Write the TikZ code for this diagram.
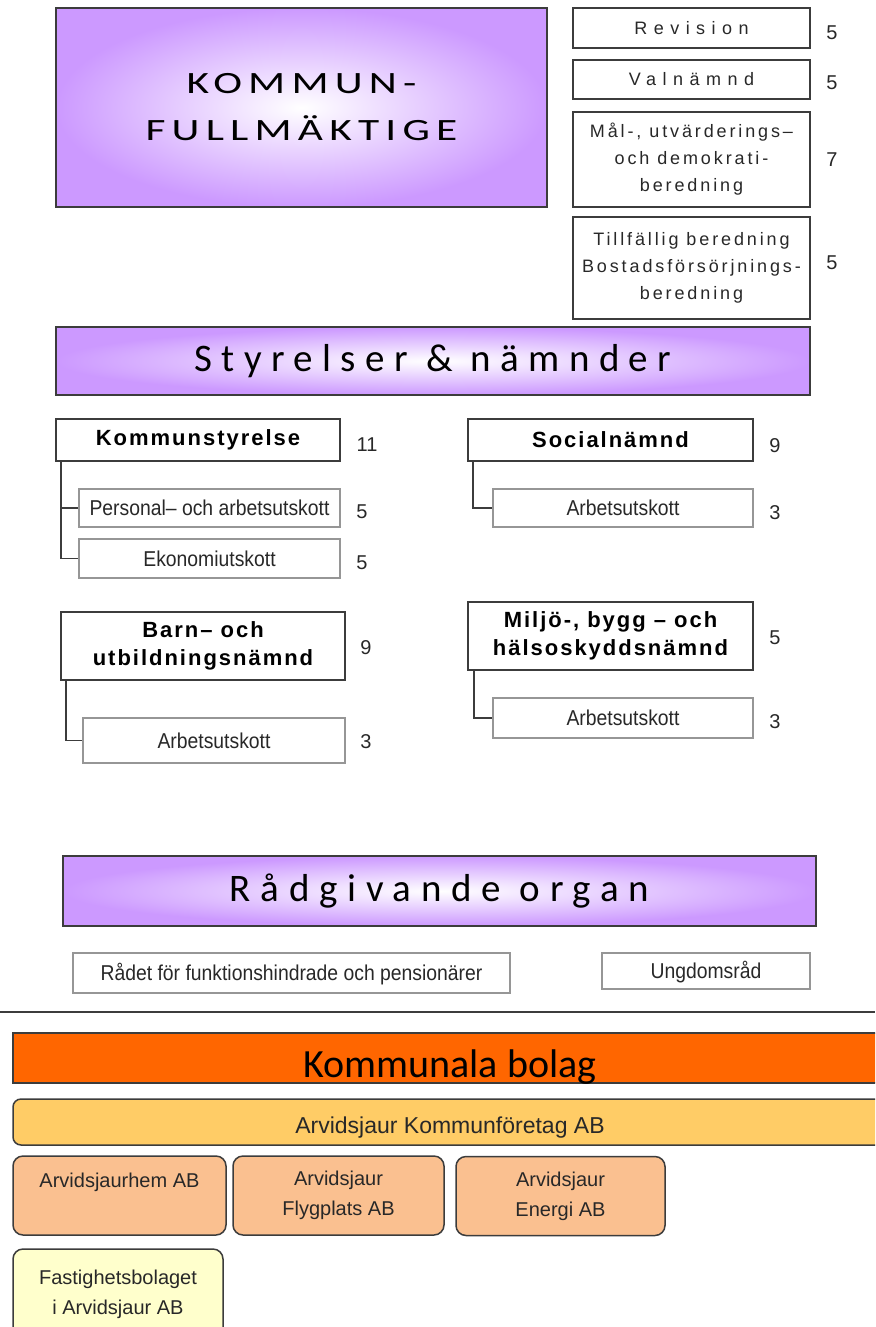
\documentclass[tikz,border=0pt]{standalone}
\usepackage{fontspec}
\setmainfont{Liberation Sans}
\newfontfamily\calfont{Carlito}
\definecolor{lav}{RGB}{204,153,255}
\definecolor{edgec}{RGB}{60,60,60}
\definecolor{lightedge}{RGB}{150,150,150}
\definecolor{txt}{RGB}{40,40,40}
\definecolor{orangebar}{RGB}{255,102,0}
\definecolor{yellowbar}{RGB}{255,204,102}
\definecolor{peach}{RGB}{250,192,144}
\definecolor{paleyellow}{RGB}{255,255,204}
\tikzset{
  purplebox/.style={draw=edgec, line width=1.8pt, inner color=white, outer color=lav, inner sep=0pt, align=center},
  topbox/.style={draw=edgec, line width=1.3pt, fill=white, align=center, inner sep=0pt, text=txt,
    font=\fontsize{18}{27}\selectfont\addfontfeatures{LetterSpace=16}},
  wideletters/.style={font=\fontsize{18}{27}\selectfont\addfontfeatures{LetterSpace=36}},
  headbox/.style={draw=edgec, line width=1.6pt, fill=white, align=center, inner sep=0pt,
    font=\fontsize{22}{28}\selectfont\bfseries\addfontfeatures{LetterSpace=9}},
  subbox/.style={draw=lightedge, line width=1.3pt, fill=white, inner sep=0pt, text=txt,
    text height=15pt, text depth=0pt, font=\fontsize{21.5}{24}\selectfont\addfontfeatures{FakeStretch=0.9}},
  num/.style={font=\fontsize{20}{20}\selectfont, text=txt, inner sep=0pt},
  conn/.style={draw=edgec, line width=1.5pt},
  company/.style={draw=edgec, line width=1.5pt, rounded corners=10pt, fill=peach, align=center, inner sep=0pt,
    font=\fontsize{20}{30}\selectfont, text=txt},
}
\begin{document}
\begin{tikzpicture}[x=1pt, y=-1pt]
\clip (0,0) rectangle (875,1327);
\fill[white] (0,0) rectangle (875,1327);

% Kommunfullmaktige
\node[purplebox, minimum width=491pt, minimum height=199pt,
  font=\calfont\fontsize{31}{47}\selectfont\addfontfeatures{FakeStretch=1.4,LetterSpace=20}] (kf) at (301.5,107.5) {KOMMUN-\\FULLMÄKTIGE};

% top right boxes
\node[topbox, wideletters, minimum width=237pt, minimum height=40pt] (rev) at (691.5,28) {Revision};
\node[num] (revn) at (832,33) {5};
\node[topbox, wideletters, minimum width=237pt, minimum height=39pt] (val) at (691.5,79.5) {Valnämnd};
\node[num] (valn) at (832,83) {5};
\node[topbox, minimum width=237pt, minimum height=95pt] (mal) at (691.5,159.5) {Mål-, utvärderings–\\och demokrati-\\beredning};
\node[num] (maln) at (832,160) {7};
\node[topbox, minimum width=237pt, minimum height=102pt] (till) at (691.5,268) {Tillfällig beredning\\Bostadsförsörjnings-\\beredning};
\node[num] (tilln) at (832,263) {5};

% Styrelser & namnder
\node[purplebox, minimum width=754pt, minimum height=68pt,
  font=\calfont\fontsize{39}{42}\selectfont\addfontfeatures{LetterSpace=24}] (sty) at (433,361) {Styrelser \& nämnder};

% Kommunstyrelse
\node[headbox, minimum width=284pt, minimum height=42pt] (ks) at (198,440) {Kommunstyrelse};
\node[num] (ksn) at (367,445) {11};
\node[subbox, minimum width=261pt, minimum height=38pt] (pers) at (209.5,508) {Personal– och arbetsutskott};
\node[num] (persn) at (362,512) {5};
\node[subbox, minimum width=261pt, minimum height=39pt] (eko) at (209.5,558.5) {Ekonomiutskott};
\node[num] (ekon) at (362,563) {5};
\draw[conn] ([xshift=6pt]ks.south west) |- (pers.west);
\draw[conn] ([xshift=6pt]ks.south west) |- (eko.west);

% Barn- och utbildningsnamnd
\node[headbox, minimum width=284pt, minimum height=68pt] (barn) at (203,646) {Barn– och\\utbildningsnämnd};
\node[num] (barnn) at (366,648) {9};
\node[subbox, minimum width=262pt, minimum height=45pt] (barnau) at (214,740.5) {Arbetsutskott};
\node[num] (barnaun) at (366,742) {3};
\draw[conn] ([xshift=6pt]barn.south west) |- (barnau.west);

% Socialnamnd
\node[headbox, minimum width=285pt, minimum height=42pt] (soc) at (610.5,440) {Socialnämnd};
\node[num] (socn) at (775,446) {9};
\node[subbox, minimum width=260pt, minimum height=38pt] (socau) at (623,508) {Arbetsutskott};
\node[num] (socaun) at (775,513) {3};
\draw[conn] ([xshift=6pt]soc.south west) |- (socau.west);

% Miljo
\node[headbox, minimum width=285pt, minimum height=68pt] (mil) at (610.5,636) {Miljö-, bygg – och\\hälsoskyddsnämnd};
\node[num] (miln) at (775,638) {5};
\node[subbox, minimum width=260pt, minimum height=40pt] (milau) at (623,718) {Arbetsutskott};
\node[num] (milaun) at (775,722) {3};
\draw[conn] ([xshift=7pt]mil.south west) |- (milau.west);

% Radgivande organ
\node[purplebox, minimum width=753pt, minimum height=70pt,
  font=\calfont\fontsize{39}{42}\selectfont\addfontfeatures{LetterSpace=25}] (rad) at (439.5,891) {Rådgivande organ};
\node[subbox, minimum width=437pt, minimum height=40pt] (radet) at (291.5,973) {Rådet för funktionshindrade och pensionärer};
\node[subbox, minimum width=208pt, minimum height=36pt] (ung) at (706,971) {Ungdomsråd};

% separator
\coordinate (sepL) at (0,1012);
\coordinate (sepR) at (875,1012);
\draw[draw=edgec, line width=2pt] (sepL) -- (sepR);

% Kommunala bolag
\node[draw=edgec, line width=1.5pt, fill=orangebar, minimum width=874pt, minimum height=50pt, inner sep=0pt,
  text height=38pt, text depth=0pt, font=\calfont\fontsize{40}{42}\selectfont] (bolag) at (450,1058) {Kommunala bolag};
\node[draw=edgec, line width=1.5pt, fill=yellowbar, rounded corners=8pt, minimum width=874pt, minimum height=46pt, inner sep=0pt,
  text height=22pt, text depth=0pt, text=txt, font=\fontsize{23}{26}\selectfont] (kfab) at (450,1122) {Arvidsjaur Kommunföretag AB};

\node[company, minimum width=213pt, minimum height=79pt] (hem) at (119.5,1195.5) {Arvidsjaurhem AB\\\mbox{}};
\node[company, minimum width=211pt, minimum height=79pt] (fly) at (338.5,1195.5) {Arvidsjaur\\Flygplats AB};
\node[company, minimum width=209pt, minimum height=79pt] (ene) at (560.5,1196) {Arvidsjaur\\Energi AB};
\node[company, fill=paleyellow, minimum width=210pt, minimum height=91pt] (fast) at (118,1294.5) {Fastighetsbolaget\\i Arvidsjaur AB};
\end{tikzpicture}
\end{document}
